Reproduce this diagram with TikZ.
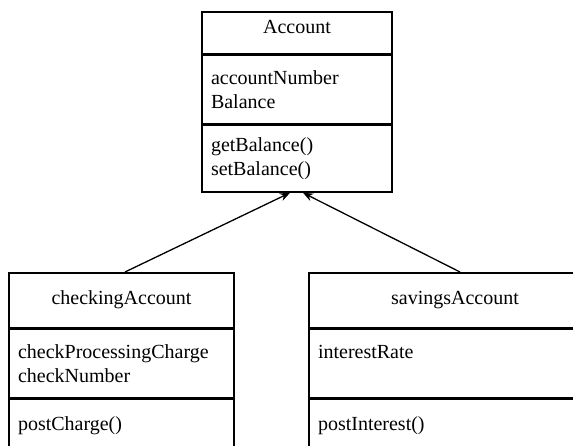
\documentclass[tikz,border=0pt]{standalone}
\usepackage{fontspec}
\setmainfont{Liberation Serif}
\usetikzlibrary{positioning,arrows.meta}
\begin{document}
\begin{tikzpicture}[
  x=1pt, y=-1pt,
  every node/.style={draw, line width=1.6pt, font=\fontsize{20}{24}\selectfont},
  classname/.style={minimum width=#1, anchor=north, inner sep=0pt, text height=14pt},
  members/.style={text width=#1, minimum height=68pt, align=left, inner xsep=9pt, inner ysep=0pt},
  inherit/.style={draw, line width=1.3pt, -{Stealth[length=10pt,width=8pt]}}
]
\useasboundingbox (0,0) rectangle (573,446);
\clip (0,0) rectangle (573,446);
% base class
\node[classname=190pt, minimum height=42pt, text depth=12pt] (acct) at (297,11) {Account};
\node[members=172pt, below=0pt of acct] (acctattr) {accountNumber\\Balance};
\node[members=172pt, below=0pt of acctattr, minimum height=67pt] (acctops) {getBalance()\\setBalance()};
% subclasses
\node[classname=225pt, minimum height=55pt, text depth=6pt] (chk) at (121.5,272) {checkingAccount};
\node[members=207pt, below=0pt of chk] (chkattr) {checkProcessingCharge\\checkNumber};
\node[members=207pt, below=0pt of chkattr, minimum height=74pt, text depth=24pt] (chkops) {postCharge()};
\node[classname=292pt, minimum height=55pt, text depth=6pt] (sav) at (455,272) {savingsAccount};
\node[members=274pt, below=0pt of sav, text depth=24pt] (savattr) {interestRate};
\node[members=274pt, below=0pt of savattr, minimum height=74pt, text depth=24pt] (savops) {postInterest()};
% inheritance
\draw[inherit] ([xshift=3.5pt]chk.north) -- ([xshift=-7pt]acctops.south);
\draw[inherit] ([xshift=5pt]sav.north) -- ([xshift=6pt]acctops.south);
\end{tikzpicture}
\end{document}
